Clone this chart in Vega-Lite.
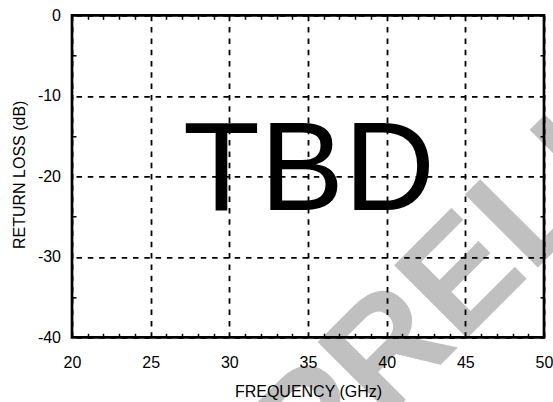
{
  "$schema": "https://vega.github.io/schema/vega-lite/v6.json",
  "autosize": {"type": "none"},
  "width": 472,
  "height": 322,
  "padding": {"left": 72, "top": 15.3, "right": 9, "bottom": 64.7},
  "background": "white",
  "config": {
    "view": {"stroke": null},
    "font": "Liberation Sans",
    "axis": {"labelFont": "Liberation Sans", "titleFont": "Liberation Sans", "labelColor": "black", "titleColor": "black", "labelFontSize": 16, "titleFontSize": 16, "titleFontWeight": "normal"}
  },
  "datasets": {
    "frame": [{"f0": 20, "f1": 50, "r0": 0, "r1": -40}],
    "annot": [{"x": 35.06, "y": -24.2, "label": "TBD"}],
    "wm": [{"x": 35.3, "y": -59.3, "label": "PRELIMINARY"}]
  },
  "layer": [
    {
      "data": {"name": "wm"},
      "mark": {"type": "text", "angle": -45, "align": "left", "baseline": "alphabetic", "fontSize": 150, "fontWeight": "bold", "color": "#c0c0c0", "font": "Liberation Sans"},
      "encoding": {
        "x": {"field": "x", "type": "quantitative", "scale": {"domain": [20, 50], "nice": false, "zero": false}, "axis": null},
        "y": {"field": "y", "type": "quantitative", "scale": {"domain": [-40, 0], "nice": false, "zero": false}, "axis": null},
        "text": {"field": "label"}
      }
    },
    {
      "data": {"name": "annot"},
      "mark": {"type": "text", "align": "center", "baseline": "alphabetic", "fontSize": 126, "color": "black", "font": "Liberation Sans"},
      "encoding": {
        "x": {"field": "x", "type": "quantitative", "scale": {"domain": [20, 50], "nice": false, "zero": false},
          "axis": {"orient": "top", "values": [21,22,23,24,26,27,28,29,31,32,33,34,36,37,38,39,41,42,43,44,46,47,48,49], "labels": false, "grid": false, "domain": false, "ticks": true, "tickSize": -4, "tickWidth": 1.5, "tickColor": "black", "title": null, "zindex": 1}},
        "y": {"field": "y", "type": "quantitative", "scale": {"domain": [-40, 0], "nice": false, "zero": false},
          "axis": {"orient": "right", "values": [-35, -25, -15, -5], "labels": false, "grid": false, "domain": false, "ticks": true, "tickSize": -4, "tickWidth": 1.5, "tickColor": "black", "title": null, "zindex": 1}},
        "text": {"field": "label"}
      }
    },
    {
      "data": {"name": "frame"},
      "mark": {"type": "rect", "fill": "transparent", "stroke": "black", "strokeWidth": 2.7},
      "encoding": {
        "x": {"field": "f0", "type": "quantitative", "scale": {"domain": [20, 50], "nice": false, "zero": false},
          "axis": {
            "orient": "bottom",
            "values": [20,21,22,23,24,25,26,27,28,29,30,31,32,33,34,35,36,37,38,39,40,41,42,43,44,45,46,47,48,49,50],
            "labelExpr": "datum.value % 5 === 0 ? '' + datum.value : ''",
            "labelFlush": false, "labelOverlap": false, "labelPadding": 21,
            "ticks": true, "tickSize": -4, "tickWidth": 1.5, "tickColor": "black",
            "tickOpacity": {"condition": {"test": "datum.value % 5 === 0", "value": 0}, "value": 1},
            "grid": true, "gridColor": "black", "gridWidth": 1.8, "gridDash": [5.5, 5.8],
            "gridOpacity": {"condition": {"test": "datum.value % 5 === 0", "value": 1}, "value": 0},
            "domain": false,
            "title": "FREQUENCY (GHz)", "titleX": 236, "titleY": 58.7, "titleBaseline": "alphabetic", "titleAlign": "center",
            "zindex": 1
          }},
        "x2": {"field": "f1"},
        "y": {"field": "r0", "type": "quantitative", "scale": {"domain": [-40, 0], "nice": false, "zero": false},
          "axis": {
            "orient": "left",
            "values": [-40, -35, -30, -25, -20, -15, -10, -5, 0],
            "labelExpr": "datum.value % 10 === 0 ? '' + datum.value : ''",
            "labelFlush": false, "labelOverlap": false, "labelPadding": 15.5,
            "ticks": true, "tickSize": -4, "tickWidth": 1.5, "tickColor": "black",
            "tickOpacity": {"condition": {"test": "datum.value % 10 === 0", "value": 0}, "value": 1},
            "grid": true, "gridColor": "black", "gridWidth": 1.8, "gridDash": [5.5, 5.8], "gridDashOffset": -4,
            "gridOpacity": {"condition": {"test": "datum.value % 10 === 0", "value": 1}, "value": 0},
            "domain": false,
            "title": "RETURN LOSS (dB)", "titleAngle": -90, "titleX": -47.3, "titleY": 159, "titleBaseline": "alphabetic", "titleAlign": "center",
            "zindex": 1
          }},
        "y2": {"field": "r1"}
      }
    }
  ],
  "resolve": {"axis": {"x": "independent", "y": "independent"}}
}
